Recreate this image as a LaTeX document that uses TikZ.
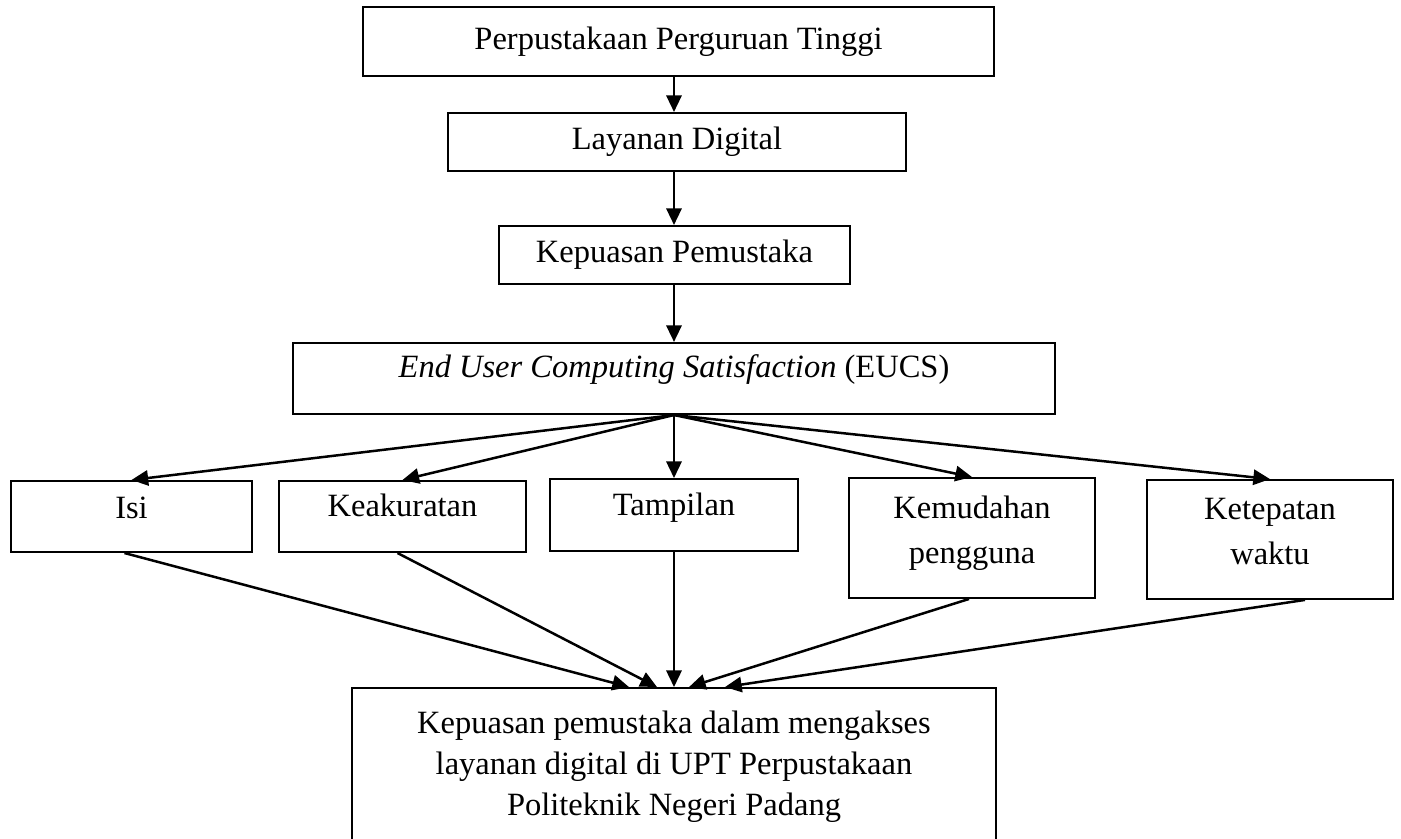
\documentclass[tikz,border=0pt]{standalone}
\usepackage{fontspec}
\setmainfont{Liberation Serif}
\usetikzlibrary{arrows.meta, positioning, calc}

\begin{document}
\begin{tikzpicture}[
  x=0.36pt, y=-0.36pt,
  bnode/.style={draw, line width=0.7pt, inner sep=0pt, align=center, font={\fontsize{11.7}{14.8}\selectfont}},
  tnode/.style={bnode, font={\fontsize{11.7}{16.2}\selectfont}, text depth=6pt},
  arr/.style={-{Triangle[length=6pt, width=5.5pt]}, line width=0.9pt}
]
  \useasboundingbox (0,0) rectangle (1401,839);

  \node[bnode, minimum width=227.2pt, minimum height=24.8pt] (pt) at (678.5, 41.5) {Perpustakaan Perguruan Tinggi};
  \node[bnode, minimum width=164.9pt, minimum height=20.9pt] (ld) at (677, 142) {Layanan Digital};
  \node[bnode, minimum width=126.4pt, minimum height=20.9pt] (kp) at (674.5, 255) {Kepuasan Pemustaka};
  \node[bnode, minimum width=274.3pt, minimum height=25.6pt, text depth=9pt] (eucs) at (674, 378.5) {\textit{End User Computing Satisfaction} (EUCS)};

  \node[bnode, minimum width=86.8pt, minimum height=25.6pt, text depth=6pt] (isi) at (131.5, 516.5) {Isi};
  \node[bnode, minimum width=88.9pt, minimum height=25.6pt, text depth=8pt] (akurat) at (402.5, 516.5) {Keakuratan};
  \node[bnode, minimum width=89.3pt, minimum height=25.9pt, text depth=8pt] (tampil) at (674, 515) {Tampilan};
  \node[tnode, minimum width=88.6pt, minimum height=43.2pt] (mudah) at (972, 538) {Kemudahan\\pengguna};
  \node[tnode, minimum width=88.6pt, minimum height=42.8pt] (tepat) at (1270, 539.5) {Ketepatan\\waktu};

  \node[bnode, minimum width=231.8pt, minimum height=56.5pt] (puas) at (674, 766.5) {Kepuasan pemustaka dalam mengakses\\layanan digital di UPT Perpustakaan\\Politeknik Negeri Padang};

  \draw[arr] (pt.south -| eucs.north) -- (ld.north -| eucs.north);
  \draw[arr] (ld.south -| eucs.north) -- (kp.north -| eucs.north);
  \draw[arr] (kp.south -| eucs.north) -- (eucs.north);

  \draw[arr] (eucs.south) -- (isi.north);
  \draw[arr] (eucs.south) -- (akurat.north);
  \draw[arr] (eucs.south) -- (tampil.north);
  \draw[arr] (eucs.south) -- (mudah.north);
  \draw[arr] (eucs.south) -- (tepat.north);

  \draw[arr] ($(isi.south)+(-7,0)$) -- ($(puas.north)+(-45,0)$);
  \draw[arr] ($(akurat.south)+(-5,0)$) -- ($(puas.north)+(-17,0)$);
  \draw[arr] (tampil.south) -- (puas.north);
  \draw[arr] ($(mudah.south)+(-3,0)$) -- ($(puas.north)+(15,0)$);
  \draw[arr] ($(tepat.south)+(35,0)$) -- ($(puas.north)+(51,0)$);
\end{tikzpicture}
\end{document}
